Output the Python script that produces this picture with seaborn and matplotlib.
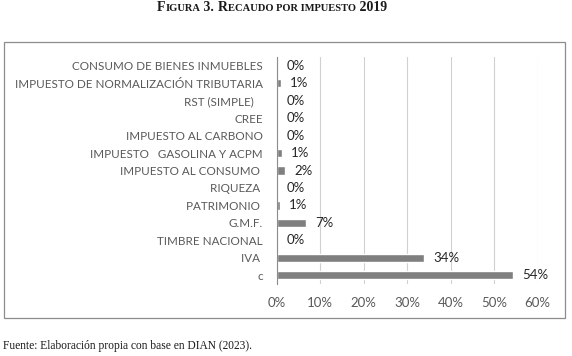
import matplotlib
matplotlib.use("Agg")
import matplotlib.pyplot as plt
import seaborn as sns
import pandas as pd
from matplotlib.patches import Rectangle

# datos (porcentaje del recaudo 2019)
impuestos = ["CONSUMO DE BIENES INMUEBLES", "IMPUESTO DE NORMALIZACIÓN TRIBUTARIA",
             "RST (SIMPLE)   ", "CREE", "IMPUESTO AL CARBONO", "IMPUESTO   GASOLINA Y ACPM",
             "IMPUESTO AL CONSUMO ", "RIQUEZA ", "PATRIMONIO ", "G.M.F.",
             "TIMBRE NACIONAL", "IVA ", "c"]
valores = [0.1, 0.9, 0.1, 0.1, 0.3, 1.3, 1.9, 0.1, 0.7, 6.7, 0.1, 33.9, 54.3]
etiquetas = ["0%", "1%", "0%", "0%", "0%", "1%", "2%", "0%", "1%", "7%", "0%", "34%", "54%"]
ticks = [0, 10, 20, 30, 40, 50, 60]

df = pd.DataFrame({"impuesto": impuestos, "valor": valores})

sns.set_style("white")
plt.rcParams["font.family"] = ["Lato", "DejaVu Sans"]

fig = plt.figure(figsize=(5.72, 3.56), dpi=100)
ax = fig.add_axes([0.4837, 0.2022, 0.4563, 0.6376])

sns.barplot(data=df, y="impuesto", x="valor", orient="h", color="#7f7f7f",
            saturation=1, width=0.48, ax=ax)

ax.set_xlim(0, 60)
ax.set_ylim(12.5, -0.5)
ax.set_xticks(ticks)
ax.set_xticklabels([f"{t}%" for t in ticks])
ax.set_xlabel("")
ax.set_ylabel("")
ax.grid(axis="x", color="#d0d0d0", linewidth=0.8)
ax.set_axisbelow(True)
for s in ["top", "right", "bottom"]:
    ax.spines[s].set_visible(False)
ax.spines["left"].set_color("#8c8c8c")
ax.spines["left"].set_linewidth(0.8)
ax.tick_params(axis="both", length=0, colors="#595959")
ax.tick_params(axis="y", pad=10, labelsize=8.4)
ax.tick_params(axis="x", pad=9, labelsize=9.5)

for i, (v, lab) in enumerate(zip(valores, etiquetas)):
    ax.annotate(lab, (v, i), xytext=(6.5, 0), textcoords="offset points",
                va="center", ha="left", fontsize=9.5, color="#262626")

# marco del gráfico
fig.patches.append(Rectangle((4 / 572, 1 - 318 / 356), 561 / 572, 276 / 356,
                             transform=fig.transFigure, fill=False,
                             edgecolor="#8c8c8c", linewidth=0.9))

# título en versalitas simuladas
piezas = [("F", 10), ("IGURA", 7.6), (" 3. ", 10), ("R", 10),
          ("ECAUDO POR IMPUESTO", 7.6), (" 2019", 10)]
fig.canvas.draw()
r = fig.canvas.get_renderer()
x = 157
y = 1 - 11 / 356
for txt, size in piezas:
    t = fig.text(x / 572, y, txt, fontsize=size, fontweight="bold",
                 family="Liberation Serif", color="#1a1a1a", va="baseline", ha="left")
    x += t.get_window_extent(r).width

fig.text(3 / 572, 1 - 346 / 356, "Fuente: Elaboración propia con base en DIAN (2023).",
         fontsize=8.3, family="Liberation Serif", color="#1a1a1a", va="center", ha="left")

fig.savefig("out.png", dpi=100)
